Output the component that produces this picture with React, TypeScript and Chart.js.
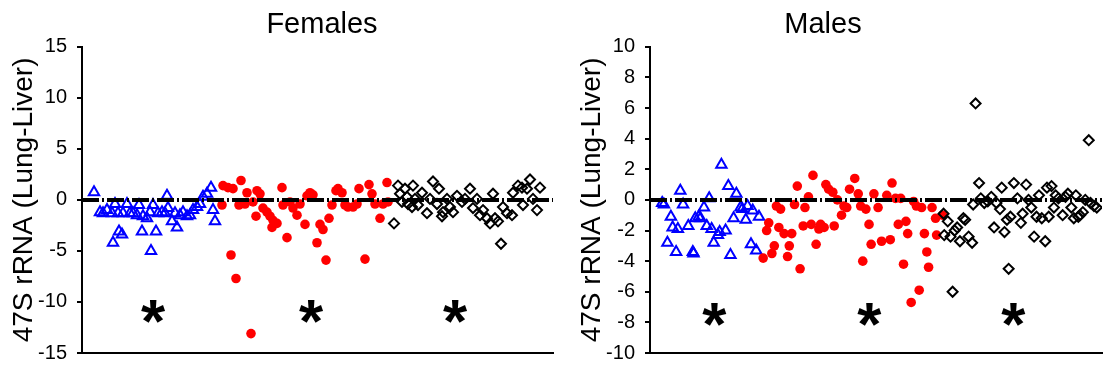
import React, { useEffect, useRef } from "react";
import { Chart, registerables } from "chart.js";

Chart.register(...registerables);

const FONT = "'Liberation Sans', Arial, Helvetica, sans-serif";
const Y_TITLE = "47S rRNA (Lung-Liver)";

// ---------------- Females ----------------
const F_TITLE = "Females";
const F_Y_MIN = -15;
const F_Y_MAX = 15;
const F_Y_STEP = 5;
const F_X_MAX = 471;

const F_BLUE_X = [12, 18, 21, 25, 30, 31, 33, 36, 37, 40, 41, 45, 48, 51, 55, 57, 60, 61, 65, 68, 69, 71, 74, 76, 80, 83, 85, 86, 90, 93, 95, 98, 101, 105, 108, 111, 115, 118, 121, 125, 129, 131, 133];
const F_BLUE_Y = [0.75, -1.2, -1.3, -1.0, -1.3, -4.2, -0.4, -1.3, -3.1, -3.4, -1.3, -0.4, -1.3, -1.3, -1.5, -0.5, -3.1, -1.6, -1.8, -1.2, -5.0, -0.5, -3.1, -1.3, -1.2, -1.3, 0.4, -0.8, -2.1, -1.3, -2.7, -1.5, -1.2, -1.6, -1.5, -1.0, -0.7, -0.4, 0.3, 0.6, 1.2, -1.0, -2.1];

const F_RED_X = [140, 141, 146, 149, 151, 154, 157, 159, 163, 165, 169, 171, 174, 175, 178, 181, 185, 188, 191, 190, 195, 200, 201, 205, 208, 211, 215, 218, 223, 225, 228, 231, 235, 238, 241, 244, 247, 250, 254, 256, 260, 263, 266, 271, 275, 277, 283, 287, 290, 293, 298, 301, 305, 306];
const F_RED_Y = [-0.5, 1.4, 1.2, -5.4, 1.1, -7.7, -0.5, 1.9, -0.4, 0.7, -13.1, -0.2, -1.6, 0.9, 0.6, -0.8, -1.2, -1.6, -2.0, -2.7, -2.3, 1.2, -0.5, -3.7, -0.2, -0.8, -1.5, -0.4, -2.4, 0.4, 0.7, 0.5, -4.2, -2.4, -2.9, -5.9, -1.8, -0.5, 0.9, 1.1, 0.7, -0.5, -0.7, -0.7, -0.4, 1.1, -5.8, 1.5, 0.6, -0.4, -1.8, -0.4, 1.7, -0.2];

const F_BLACK_X = [312, 316, 318, 320, 323, 325, 326, 330, 331, 333, 336, 340, 345, 348, 351, 355, 357, 360, 361, 365, 368, 371, 375, 380, 383, 388, 391, 395, 398, 401, 405, 408, 411, 413, 416, 419, 421, 425, 430, 431, 436, 440, 441, 445, 448, 451, 455, 458];
const F_BLACK_Y = [-2.3, 1.4, 0.6, -0.2, 1.1, 0.3, -0.4, -0.7, 1.4, 0.1, -0.5, 0.7, -1.3, 0.1, 1.8, -0.4, 1.1, -1.6, -1.2, 0.1, -0.7, -1.2, 0.4, -0.2, 0.1, 1.1, -0.8, 0.1, -1.5, -1.0, -1.8, -2.3, 0.6, -1.8, -2.1, -4.3, -0.7, -1.3, -1.5, 0.7, 1.4, 1.2, -0.5, 1.1, 2.0, 0.1, -1.0, 1.2];

const F_STAR_X = [71, 229, 373];
const F_STAR_Y = -10.9;

// ---------------- Males ----------------
const M_TITLE = "Males";
const M_Y_MIN = -10;
const M_Y_MAX = 10;
const M_Y_STEP = 2;
const M_X_MAX = 1298;

const M_BLUE_X = [35, 40, 50, 60, 65, 75, 80, 87, 95, 110, 123, 125, 130, 140, 145, 155, 163, 170, 177, 183, 195, 200, 205, 217, 225, 231, 240, 248, 260, 265, 275, 280, 290, 295, 305, 313];
const M_BLUE_Y = [-0.2, -0.3, -2.8, -1.1, -1.8, -3.4, -1.9, 0.6, -0.3, -1.7, -3.4, -3.5, -1.2, -1.1, -1.2, -0.5, -1.7, 0.1, -1.9, -2.8, -2.3, -2.1, 2.3, -2.0, 0.9, -3.6, -1.2, 0.4, -0.5, -0.6, -1.3, -0.4, -2.9, -0.7, -3.3, -1.1];

const M_RED_X = [325, 335, 341, 350, 357, 363, 370, 375, 385, 395, 400, 407, 415, 423, 431, 440, 445, 455, 463, 468, 477, 485, 490, 500, 505, 513, 525, 529, 538, 550, 557, 565, 573, 588, 598, 605, 611, 620, 629, 635, 643, 655, 665, 680, 690, 695, 705, 713, 720, 728, 735, 740, 750, 757, 765, 773, 780, 788, 795, 800, 810, 820, 823, 840];
const M_RED_Y = [-3.8, -2.0, -1.5, -3.5, -3.0, -0.4, -1.8, -0.6, -2.2, -3.7, -3.0, -2.2, -0.3, 0.9, -4.5, -1.7, -0.5, 0.2, -1.6, 1.6, -2.9, -1.9, -1.6, -1.8, 1.0, 0.7, 0.5, -1.7, 0.0, -1.0, -0.4, -0.5, 0.7, 1.4, 0.4, -0.4, -4.0, -0.6, -1.6, -2.9, 0.4, -0.5, -2.7, 0.3, -2.6, 1.1, 0.1, -1.6, 0.1, -4.2, -1.4, -2.2, -6.7, -0.1, -0.4, -5.9, -0.5, -2.2, -3.4, -4.4, -0.5, -1.2, -2.3, -1.0];

const M_BLACK_X = [843, 845, 855, 863, 869, 875, 882, 890, 900, 905, 915, 925, 928, 935, 945, 950, 960, 970, 980, 988, 995, 1005, 1010, 1018, 1025, 1030, 1035, 1045, 1055, 1065, 1070, 1080, 1087, 1095, 1103, 1110, 1117, 1125, 1135, 1140, 1145, 1153, 1160, 1165, 1173, 1185, 1193, 1200, 1210, 1217, 1223, 1230, 1235, 1243, 1250, 1260, 1265, 1275, 1283];
const M_BLACK_Y = [-0.9, -2.3, -1.4, -2.4, -6.0, -2.0, -1.8, -2.7, -1.2, -1.3, -2.4, -2.8, -0.3, 6.3, 1.1, 0.1, -0.2, -0.1, 0.2, -1.8, -0.2, -0.6, 0.8, -2.1, -1.3, -4.5, -1.1, 1.1, 0.1, -1.5, -0.9, 1.0, 0.0, -0.5, -2.4, -1.1, 0.3, -1.2, -2.7, 0.8, -1.1, 0.9, -0.5, 0.3, 0.1, -1.0, 0.2, 0.4, -0.5, -1.2, 0.3, -1.1, -1.0, -0.8, 0.0, 3.9, -0.2, -0.4, -0.5];

const M_STAR_X = [185, 630, 1043];
const M_STAR_Y = -7.5;

const asteriskPlugin = {
  id: "asterisks",
  afterDatasetsDraw(chart: any, _args: any, opts: any) {
    const { ctx, scales } = chart;
    const xs: number[] = opts.x || [];
    ctx.save();
    ctx.font = `bold 62px ${FONT}`;
    ctx.fillStyle = "#000";
    ctx.textAlign = "center";
    ctx.textBaseline = "alphabetic";
    const m = ctx.measureText("*");
    const off = (m.actualBoundingBoxAscent - m.actualBoundingBoxDescent) / 2;
    const py = scales.y.getPixelForValue(opts.y);
    xs.forEach((v) => {
      const px = scales.x.getPixelForValue(v);
      ctx.fillText("*", px, py + off);
    });
    ctx.restore();
  },
};

const pts = (xs: number[], ys: number[]) => xs.map((x, i) => ({ x, y: ys[i] }));

function buildConfig(p: any): any {
  return {
    type: "scatter",
    data: {
      datasets: [
        {
          type: "line",
          data: [
            { x: 0, y: 0 },
            { x: p.xMax, y: 0 },
          ],
          borderColor: "#000",
          borderWidth: 4,
          borderDash: [17, 3, 2, 3],
          pointRadius: 0,
          showLine: true,
          fill: false,
          order: 0,
        },
        {
          data: pts(p.blackX, p.blackY),
          pointStyle: "rectRot",
          pointRadius: 5,
          borderWidth: 2,
          borderColor: "#000",
          backgroundColor: "rgba(0,0,0,0)",
          order: 1,
        },
        {
          data: pts(p.redX, p.redY),
          pointStyle: "circle",
          pointRadius: 4.8,
          borderWidth: 0,
          backgroundColor: "#ff0000",
          borderColor: "#ff0000",
          order: 2,
        },
        {
          data: pts(p.blueX, p.blueY),
          pointStyle: "triangle",
          pointRadius: 6,
          borderWidth: 2,
          borderColor: "#0000ff",
          backgroundColor: "rgba(0,0,0,0)",
          order: 3,
        },
      ],
    },
    options: {
      animation: false,
      responsive: false,
      devicePixelRatio: 1,
      events: [],
      layout: { padding: { left: p.padLeft, right: p.padRight, top: 0, bottom: 13 } },
      plugins: {
        legend: { display: false },
        tooltip: { enabled: false },
        title: {
          display: true,
          text: p.title,
          color: "#000",
          font: { family: FONT, size: 29, weight: "normal" },
          padding: { top: 8, bottom: 4 },
        },
        asterisks: { x: p.starX, y: p.starY },
      },
      scales: {
        x: {
          type: "linear",
          min: 0,
          max: p.xMax,
          ticks: { display: false },
          grid: { display: false, drawTicks: false },
          border: { display: true, color: "#000", width: 2 },
          afterFit: (s: any) => {
            s.height = 0;
          },
        },
        y: {
          type: "linear",
          min: p.yMin,
          max: p.yMax,
          ticks: {
            stepSize: p.yStep,
            color: "#000",
            padding: 10,
            font: { family: FONT, size: 20 },
          },
          grid: {
            display: true,
            drawOnChartArea: false,
            drawTicks: true,
            tickLength: 5,
            color: "#000",
            lineWidth: 2,
          },
          border: { display: true, color: "#000", width: 2 },
          title: {
            display: true,
            text: Y_TITLE,
            color: "#000",
            font: { family: FONT, size: 28 },
            padding: { top: p.yTitlePad, bottom: 0 },
          },
          afterFit: (s: any) => {
            s.width = p.yAxisWidth;
          },
        },
        spacer: {
          type: "linear",
          position: "right",
          display: p.rightSpace > 0,
          ticks: { display: false },
          grid: { display: false, drawTicks: false },
          border: { display: false },
          afterFit: (s: any) => {
            s.width = p.rightSpace;
          },
        },
      },
    },
    plugins: [asteriskPlugin],
  };
}

const FEMALES = {
  title: F_TITLE,
  yMin: F_Y_MIN,
  yMax: F_Y_MAX,
  yStep: F_Y_STEP,
  xMax: F_X_MAX,
  blueX: F_BLUE_X,
  blueY: F_BLUE_Y,
  redX: F_RED_X,
  redY: F_RED_Y,
  blackX: F_BLACK_X,
  blackY: F_BLACK_Y,
  starX: F_STAR_X,
  starY: F_STAR_Y,
  padLeft: 0,
  padRight: 0,
  yAxisWidth: 82,
  yTitlePad: 7,
  rightSpace: 91,
};

const MALES = {
  title: M_TITLE,
  yMin: M_Y_MIN,
  yMax: M_Y_MAX,
  yStep: M_Y_STEP,
  xMax: M_X_MAX,
  blueX: M_BLUE_X,
  blueY: M_BLUE_Y,
  redX: M_RED_X,
  redY: M_RED_Y,
  blackX: M_BLACK_X,
  blackY: M_BLACK_Y,
  starX: M_STAR_X,
  starY: M_STAR_Y,
  padLeft: 5,
  padRight: 5,
  yAxisWidth: 109,
  yTitlePad: 34,
  rightSpace: 0,
};

function Panel({ cfg, left, width }: { cfg: any; left: number; width: number }) {
  const ref = useRef<HTMLCanvasElement>(null);
  useEffect(() => {
    const chart = new Chart(ref.current as HTMLCanvasElement, buildConfig(cfg));
    return () => chart.destroy();
  }, [cfg]);
  return (
    <canvas
      ref={ref}
      width={width}
      height={375}
      style={{ position: "absolute", left, top: 0, width, height: 375 }}
    />
  );
}

export default function App() {
  return (
    <div style={{ position: "absolute", left: 0, top: 0, width: 1110, height: 375, background: "#fff" }}>
      <Panel cfg={FEMALES} left={0} width={644} />
      <Panel cfg={MALES} left={536} width={574} />
    </div>
  );
}
